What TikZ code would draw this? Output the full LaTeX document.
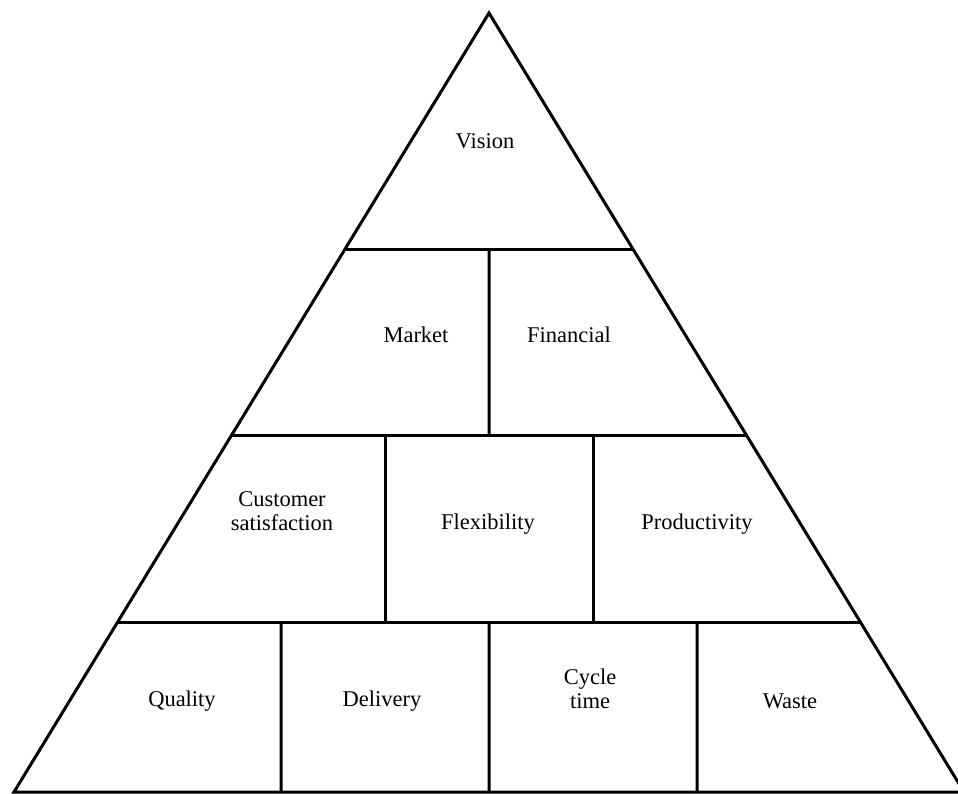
\documentclass[tikz,border=0pt]{standalone}
\usepackage{fontspec}
\setmainfont{Liberation Serif}
\usepackage{tikz}
\usetikzlibrary{calc}
\tikzstyle{wall}=[line width=0.06cm,line join=miter,black]
\tikzstyle{field}=[align=center,inner sep=0pt,font=\fontsize{12.8}{14}\selectfont]

\begin{document}
\begin{tikzpicture}[x=0.02cm,y=-0.02cm]

    \useasboundingbox (0,0) rectangle (958,794);

    % Ecken
    \coordinate (apex) at (489,13);
    \coordinate (bl) at (14,792);
    \coordinate (br) at (964,792);
    \coordinate (l1) at ($(apex)!0.3030!(bl)$);
    \coordinate (r1) at ($(apex)!0.3030!(br)$);
    \coordinate (l2) at ($(apex)!0.5430!(bl)$);
    \coordinate (r2) at ($(apex)!0.5430!(br)$);
    \coordinate (l3) at ($(apex)!0.7818!(bl)$);
    \coordinate (r3) at ($(apex)!0.7818!(br)$);

    % Pyramide
    \draw[wall] (apex) -- (bl) -- (br) -- cycle;
    \draw[wall] (l1) -- (r1);
    \draw[wall] (l2) -- (r2);
    \draw[wall] (l3) -- (r3);
    \draw[wall] ($(l1)!0.5!(r1)$) -- ($(l2)!0.5!(r2)$);
    \draw[wall] ($(l2)!0.5!(r2)+(-104,0)$) -- ($(l3)!0.5!(r3)+(-104,0)$);
    \draw[wall] ($(l2)!0.5!(r2)+(104,0)$) -- ($(l3)!0.5!(r3)+(104,0)$);
    \draw[wall] ($(l3)!0.5!(r3)+(-208,0)$) -- ($(bl)!0.5!(br)+(-208,0)$);
    \draw[wall] ($(l3)!0.5!(r3)$) -- ($(bl)!0.5!(br)$);
    \draw[wall] ($(l3)!0.5!(r3)+(208,0)$) -- ($(bl)!0.5!(br)+(208,0)$);

    % Felder
    \node[field] (vision) at (485,141) {Vision};
    \node[field] (market) at (416,335) {Market};
    \node[field] (financial) at (569,335) {Financial};
    \node[field] (custsat) at (282,511) {Customer\\satisfaction};
    \node[field] (flexibility) at (488,524) {Flexibility};
    \node[field] (productivity) at (697,524) {Productivity};
    \node[field] (quality) at (182,701) {Quality};
    \node[field] (delivery) at (382,701) {Delivery};
    \node[field] (cycletime) at (590,689) {Cycle\\time};
    \node[field] (waste) at (790,701) {Waste};

\end{tikzpicture}
\end{document}
